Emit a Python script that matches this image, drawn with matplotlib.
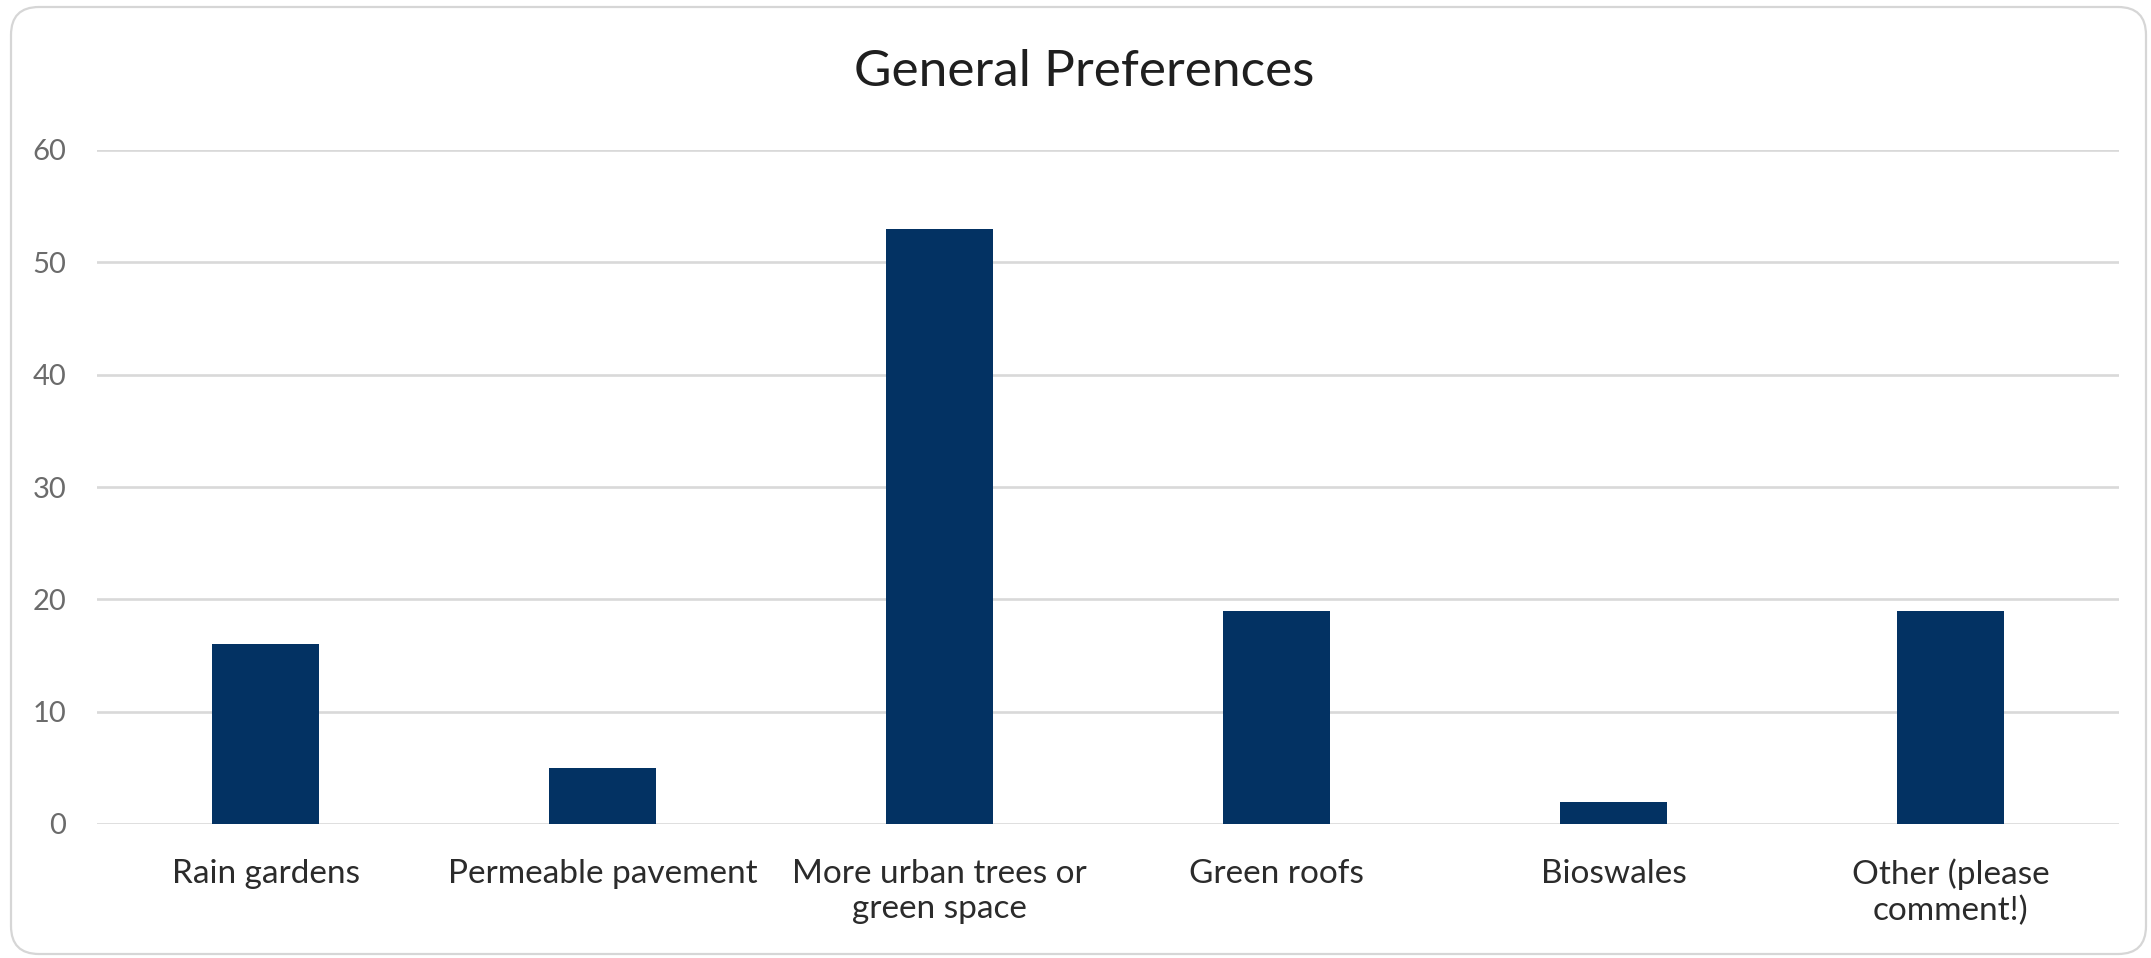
import matplotlib
matplotlib.use("Agg")
import matplotlib.pyplot as plt
from matplotlib.patches import FancyBboxPatch
from matplotlib.transforms import IdentityTransform

# survey answers
categories = ["Rain gardens", "Permeable pavement", "More urban trees or\ngreen space",
              "Green roofs", "Bioswales", "Other (please\ncomment!)"]
counts = [16, 5, 53, 19, 2, 19]
yticks = [0, 10, 20, 30, 40, 50, 60]

plt.rcParams['font.family'] = ['Lato', 'DejaVu Sans']

W, H = 2151, 958
fig = plt.figure(figsize=(W / 100, H / 100), dpi=100)
fig.patch.set_facecolor('white')

# rounded chart border (pixel coords)
frame = FancyBboxPatch((11, 4), 2135, 947, boxstyle="round,pad=0,rounding_size=28",
                       transform=IdentityTransform(), facecolor='none',
                       edgecolor='#d6d6d6', linewidth=1.6, zorder=-1)
fig.patches.append(frame)

ax = fig.add_axes([97 / W, 1 - 824 / H, (2119 - 97) / W, (824 - 150) / H])
ax.set_facecolor('none')

x = range(len(categories))
ax.bar(x, counts, width=0.315, color='#033263', zorder=3)

ax.set_xlim(-0.5, len(categories) - 0.5)
ax.set_ylim(0, 60)
ax.set_yticks(yticks)
ax.set_xticks(list(x))
ax.set_xticklabels(categories, fontsize=24, color='#2b2b2b', linespacing=1.2)
ax.tick_params(axis='x', length=0, pad=25)
ax.tick_params(axis='y', length=0, pad=22, labelsize=21, labelcolor='#6b6b6b')

ax.grid(axis='y', color='#d9d9d9', linewidth=1.9, zorder=0)
ax.set_axisbelow(True)
for s in ax.spines.values():
    s.set_visible(False)

fig.text(0.504, 1 - 72 / H, "General Preferences", ha='center', va='center',
         fontsize=37, color='#1f1f1f')

fig.savefig("out.png", dpi=100, facecolor='white')
